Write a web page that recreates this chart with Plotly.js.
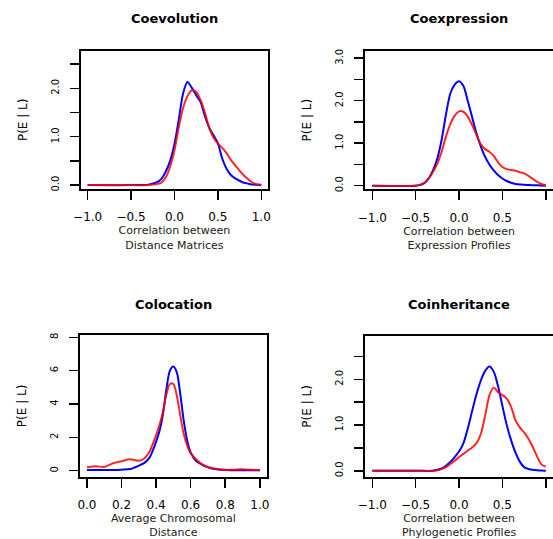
<!DOCTYPE html>
<html>
<head>
<meta charset="utf-8">
<script src="https://cdn.plot.ly/plotly-3.0.1.min.js"></script>
<style>html,body{margin:0;padding:0;background:#fff;}#chart{width:553px;height:539px;}</style>
</head>
<body>
<div id="chart"></div>
<script>
// ---- Data ----
const panelTitles = ["Coevolution", "Coexpression", "Colocation", "Coinheritance"];
const xTitles = ["Correlation between<br>Distance Matrices", "Correlation between<br>Expression Profiles",
                 "Average Chromosomal<br>Distance", "Correlation between<br>Phylogenetic Profiles"];
const yTitle = "P(E | L)";

const coevX    = [-1.0,-0.5,-0.3,-0.2,-0.15,-0.1,-0.05,0,0.05,0.1,0.15,0.2,0.25,0.3,0.35,0.4,0.45,0.5,0.55,0.6,0.65,0.7,0.75,0.8,0.85,0.9,0.95,1.0];
const coevBlue = [0,0,0.01,0.06,0.13,0.28,0.5,0.85,1.36,1.9,2.13,2.01,1.86,1.72,1.43,1.19,1.03,0.87,0.55,0.34,0.21,0.14,0.09,0.05,0.03,0.01,0.005,0];
const coevRed  = [0,0,0,0.02,0.05,0.16,0.38,0.72,1.2,1.6,1.84,1.96,1.93,1.76,1.5,1.19,0.98,0.86,0.77,0.66,0.52,0.41,0.3,0.2,0.12,0.05,0.02,0.01];

const coexX    = [-1.0,-0.5,-0.45,-0.4,-0.35,-0.3,-0.25,-0.2,-0.15,-0.1,-0.05,0,0.05,0.1,0.15,0.2,0.25,0.3,0.35,0.4,0.45,0.5,0.55,0.6,0.65,0.7,0.75,0.8,0.85,0.9,0.95,1.0];
const coexBlue = [0,0,0.02,0.06,0.17,0.36,0.64,1.08,1.68,2.17,2.38,2.46,2.35,2.0,1.62,1.24,0.93,0.68,0.5,0.36,0.25,0.17,0.11,0.07,0.04,0.03,0.02,0.015,0.01,0.01,0.005,0];
const coexRed  = [0,0,0.02,0.06,0.17,0.32,0.52,0.8,1.16,1.45,1.65,1.75,1.74,1.63,1.43,1.2,0.98,0.86,0.8,0.7,0.55,0.44,0.39,0.37,0.35,0.32,0.29,0.23,0.16,0.09,0.04,0.015];

const colocX    = [0,0.05,0.1,0.15,0.2,0.25,0.3,0.33,0.36,0.39,0.42,0.44,0.46,0.48,0.5,0.52,0.54,0.56,0.58,0.6,0.63,0.66,0.7,0.75,0.8,0.85,0.9,0.95,1.0];
const colocBlue = [0.04,0.04,0.04,0.04,0.06,0.1,0.3,0.45,0.75,1.45,2.4,3.4,4.9,6.0,6.25,5.9,4.6,3.0,1.8,1.1,0.6,0.4,0.2,0.08,0.04,0.03,0.03,0.02,0.02];
const colocRed  = [0.2,0.27,0.22,0.44,0.57,0.68,0.6,0.72,1.1,1.85,2.75,3.55,4.6,5.2,5.2,4.5,3.3,2.2,1.5,1.04,0.7,0.42,0.22,0.1,0.05,0.06,0.08,0.05,0.02];

const coinX    = [-1.0,-0.5,-0.3,-0.2,-0.15,-0.1,-0.05,0,0.05,0.1,0.15,0.2,0.25,0.3,0.35,0.4,0.45,0.5,0.55,0.6,0.65,0.7,0.75,0.8,0.85,0.9,0.95,1.0];
const coinBlue = [0,0,0,0.05,0.11,0.19,0.3,0.42,0.6,0.92,1.3,1.67,1.97,2.18,2.28,2.17,1.85,1.42,1.0,0.67,0.4,0.2,0.08,0.04,0.02,0.01,0.005,0];
const coinRed  = [0,0,0,0.04,0.08,0.15,0.22,0.3,0.37,0.44,0.51,0.6,0.8,1.2,1.65,1.82,1.72,1.66,1.58,1.4,1.11,0.95,0.84,0.7,0.52,0.31,0.14,0.09];

const corrTickVals = [-1, -0.5, 0, 0.5, 1];
const corrTickText = ["\u22121.0", "\u22120.5", "0.0", "0.5", "1.0"];
const distTickVals = [0, 0.2, 0.4, 0.6, 0.8, 1.0];
const distTickText = ["0.0", "0.2", "0.4", "0.6", "0.8", "1.0"];
const y1TickVals = [0, 0.5, 1, 1.5, 2, 2.5];
const y1TickText = ["0.0", "", "1.0", "", "2.0", ""];
const y2TickVals = [0, 0.5, 1, 1.5, 2, 2.5, 3];
const y2TickText = ["0.0", "", "1.0", "", "2.0", "", "3.0"];
const y3TickVals = [0, 2, 4, 6, 8];
const y3TickText = ["0", "2", "4", "6", "8"];

// ---- Build ----
const FONT = "DejaVu Sans, Arial, sans-serif";
const panels = [
  {x: coevX, b: coevBlue, r: coevRed, xr: [-1.08, 1.08], yr: [-0.08, 2.78], xv: corrTickVals, xt: corrTickText, yv: y1TickVals, yt: y1TickText,
   dx: [0.146, 0.485], dy: [0.6494, 0.906]},
  {x: coexX, b: coexBlue, r: coexRed, xr: [-1.08, 1.08], yr: [-0.085, 3.17], xv: corrTickVals, xt: corrTickText, yv: y2TickVals, yt: y2TickText,
   dx: [0.6606, 0.9995], dy: [0.6488, 0.9054]},
  {x: colocX, b: colocBlue, r: colocRed, xr: [-0.04, 1.04], yr: [-0.36, 8.14], xv: distTickVals, xt: distTickText, yv: y3TickVals, yt: y3TickText,
   dx: [0.1447, 0.4823], dy: [0.1156, 0.3785]},
  {x: coinX, b: coinBlue, r: coinRed, xr: [-1.08, 1.08], yr: [-0.13, 2.95], xv: corrTickVals, xt: corrTickText, yv: y1TickVals, yt: y1TickText,
   dx: [0.6606, 0.9995], dy: [0.1156, 0.3766]}
];

const traces = [];
const layout = {
  width: 553, height: 539,
  margin: {l: 0, r: 0, t: 0, b: 0},
  paper_bgcolor: "#fff", plot_bgcolor: "#fff",
  showlegend: false,
  font: {family: FONT, color: "#000"},
  annotations: []
};

panels.forEach((p, i) => {
  const n = i + 1;
  const xa = n === 1 ? "x" : "x" + n;
  const ya = n === 1 ? "y" : "y" + n;
  traces.push({x: p.x, y: p.b, xaxis: xa, yaxis: ya, type: "scatter", mode: "lines",
               line: {color: "rgb(0,0,255)", width: 2, shape: "spline", smoothing: 0.8}, hoverinfo: "skip"});
  traces.push({x: p.x, y: p.r, xaxis: xa, yaxis: ya, type: "scatter", mode: "lines",
               line: {color: "rgba(255,0,0,0.85)", width: 2, shape: "spline", smoothing: 0.8}, hoverinfo: "skip"});
  layout["xaxis" + (n === 1 ? "" : n)] = {
    domain: p.dx, anchor: ya, range: p.xr, showgrid: false, zeroline: false,
    showline: true, mirror: true, linecolor: "#000", linewidth: 2,
    ticks: "outside", ticklen: 9, tickwidth: 1.5, tickcolor: "#000",
    tickmode: "array", tickvals: p.xv, ticktext: p.xt,
    tickfont: {family: FONT, size: 12, color: "#000"}, ticklabelstandoff: 7,
    title: {text: xTitles[i], font: {family: FONT, size: 11, color: "#222"}, standoff: 3},
    automargin: false, fixedrange: true
  };
  layout["yaxis" + (n === 1 ? "" : n)] = {
    domain: p.dy, anchor: xa, range: p.yr, showgrid: false, zeroline: false,
    showline: true, mirror: true, linecolor: "#000", linewidth: 2,
    ticks: "outside", ticklen: 9, tickwidth: 1.5, tickcolor: "#000",
    tickmode: "array", tickvals: p.yv, ticktext: p.yt, tickangle: -90,
    tickfont: {family: FONT, size: 10, color: "#000"}, ticklabelstandoff: 7,
    title: {text: yTitle, font: {family: FONT, size: 12, color: "#000"}, standoff: 20},
    automargin: false, fixedrange: true
  };
  const cx = (p.dx[0] + p.dx[1]) / 2;
  layout.annotations.push({
    text: "<b>" + panelTitles[i] + "</b>", xref: "paper", yref: "paper",
    x: cx, y: i < 2 ? 1 - 19 / 539 : 1 - 304 / 539, xanchor: "center", yanchor: "middle",
    showarrow: false, font: {family: FONT, size: 13, color: "#000"}
  });
});

Plotly.newPlot("chart", traces, layout, {displayModeBar: false, staticPlot: true});
</script>
</body>
</html>
